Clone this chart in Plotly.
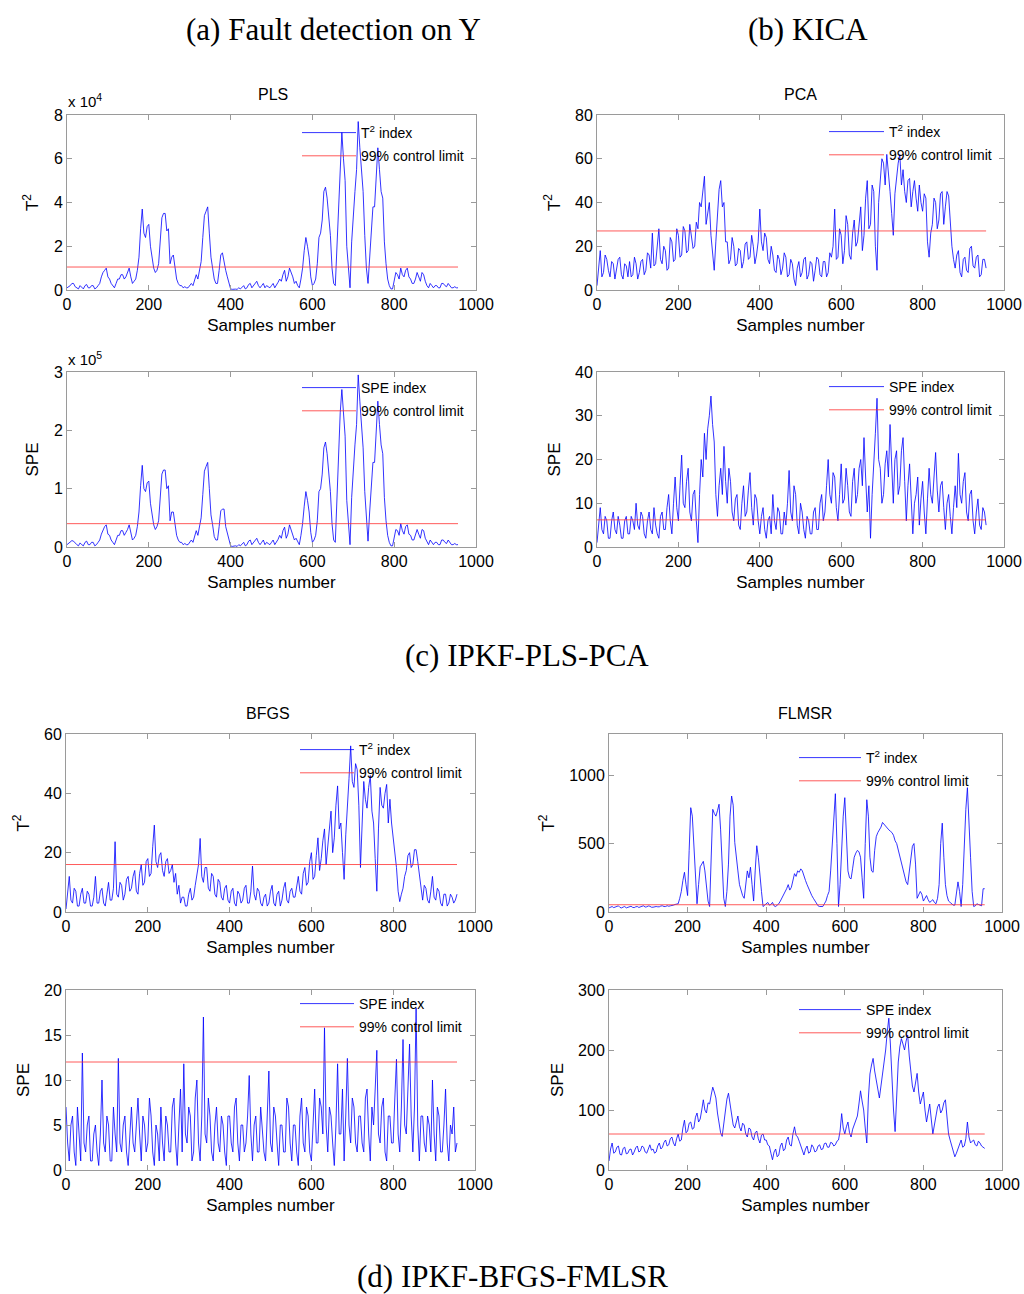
import plotly.graph_objects as go

# ---------------- data (every 4th sample) ----------------
samples = list(range(0, 960, 4))

# PLS T2 (x 10^4)
pls_t2 = [0.1, 0.15, 0.2, 0.3, 0.3, 0.15, 0.1, 0.05, 0.2, 0.1, 0.05, 0.2, 0.25, 0.1, 0.1, 0.2, 0.2, 0.05, 0.1, 0.2,
          0.3, 0.6, 0.8, 0.9, 1.0, 0.6, 0.5, 0.3, 0.2, 0.1, 0.3, 0.5, 0.5, 0.7, 0.7, 0.5, 0.6, 0.8, 1.0, 0.6,
          0.3, 0.4, 0.5, 0.9, 1.5, 2.8, 3.7, 2.6, 2.4, 2.9, 3.0, 2.0, 1.4, 1.0, 0.8, 0.9, 1.2, 2.5, 3.3, 3.5,
          3.5, 2.7, 2.8, 1.2, 1.5, 1.6, 0.9, 0.5, 0.3, 0.2, 0.2, 0.1, 0.15, 0.1, 0.1, 0.2, 0.3, 0.2, 0.5, 0.7,
          0.5, 0.9, 1.3, 2.4, 3.4, 3.6, 3.8, 2.6, 1.5, 1.0, 0.5, 0.3, 0.3, 0.9, 1.6, 1.7, 1.2, 0.9, 0.6, 0.3,
          0.05, 0.03, 0.05, 0.04, 0.03, 0.1, 0.05, 0.15, 0.2, 0.05, 0.1, 0.25, 0.3, 0.1, 0.2, 0.35, 0.4, 0.2, 0.1, 0.2,
          0.3, 0.1, 0.2, 0.15, 0.1, 0.2, 0.3, 0.1, 0.2, 0.35, 0.5, 0.4, 0.7, 0.9, 0.4, 0.6, 1.0, 0.8, 0.6, 0.3,
          0.4, 0.2, 0.1, 0.5, 1.0, 1.8, 2.4, 2.0, 1.5, 0.6, 0.2, 0.3, 0.5, 1.2, 2.4, 2.6, 3.2, 4.5, 4.7, 4.2,
          3.3, 2.5, 1.0, 0.3, 0.2, 2.0, 4.3, 5.3, 7.2, 6.0, 5.0, 2.0, 1.0, 0.1, 2.2, 3.6, 4.5, 5.5, 7.7, 6.5,
          5.3, 4.5, 2.5, 1.0, 0.3, 1.5, 2.8, 3.8, 3.8, 5.5, 6.5, 5.5, 4.5, 4.2, 2.2, 1.2, 0.5, 0.2, 0.05, 0.05,
          0.4, 0.8, 0.7, 0.5, 1.0, 0.7, 0.6, 0.9, 1.0, 0.6, 0.5, 0.3, 0.3, 0.5, 0.8, 0.6, 0.4, 0.8, 0.7, 0.4,
          0.2, 0.1, 0.3, 0.2, 0.1, 0.2, 0.2, 0.1, 0.1, 0.3, 0.3, 0.2, 0.15, 0.3, 0.2, 0.1, 0.1, 0.15, 0.1, 0.1]
pls_t2_limit = 1.05

# PLS SPE (x 10^5)
pls_spe = [0.04, 0.06, 0.08, 0.11, 0.1, 0.06, 0.04, 0.02, 0.07, 0.04, 0.02, 0.08, 0.1, 0.04, 0.04, 0.08, 0.08, 0.02, 0.04, 0.08,
           0.12, 0.22, 0.3, 0.35, 0.38, 0.22, 0.2, 0.12, 0.08, 0.04, 0.12, 0.2, 0.2, 0.28, 0.28, 0.2, 0.25, 0.3, 0.38, 0.22,
           0.12, 0.15, 0.2, 0.35, 0.6, 1.05, 1.4, 1.0, 0.95, 1.1, 1.13, 0.75, 0.55, 0.38, 0.3, 0.35, 0.45, 0.95, 1.25, 1.32,
           1.32, 1.0, 1.05, 0.45, 0.6, 0.6, 0.35, 0.2, 0.12, 0.08, 0.08, 0.04, 0.06, 0.04, 0.04, 0.08, 0.12, 0.08, 0.2, 0.28,
           0.2, 0.35, 0.5, 0.9, 1.3, 1.38, 1.45, 1.0, 0.55, 0.38, 0.18, 0.12, 0.12, 0.35, 0.62, 0.65, 0.65, 0.35, 0.25, 0.12,
           0.02, 0.01, 0.02, 0.02, 0.01, 0.04, 0.02, 0.06, 0.08, 0.02, 0.04, 0.1, 0.12, 0.04, 0.08, 0.13, 0.15, 0.08, 0.04, 0.08,
           0.12, 0.04, 0.08, 0.06, 0.04, 0.08, 0.12, 0.04, 0.08, 0.13, 0.2, 0.15, 0.28, 0.34, 0.15, 0.22, 0.38, 0.3, 0.22, 0.12,
           0.15, 0.08, 0.04, 0.2, 0.4, 0.7, 0.95, 0.8, 0.6, 0.25, 0.08, 0.12, 0.2, 0.45, 0.95, 1.0, 1.25, 1.7, 1.8, 1.6,
           1.3, 0.95, 0.4, 0.12, 0.08, 0.8, 1.65, 2.3, 2.7, 2.3, 1.9, 0.8, 0.4, 0.04, 0.85, 1.4, 1.75, 2.1, 2.95, 2.5,
           2.05, 1.7, 0.95, 0.4, 0.1, 0.6, 1.1, 1.45, 1.45, 2.1, 2.5, 2.1, 1.75, 1.6, 0.85, 0.45, 0.2, 0.08, 0.02, 0.02,
           0.15, 0.3, 0.28, 0.2, 0.4, 0.28, 0.22, 0.35, 0.38, 0.22, 0.2, 0.12, 0.12, 0.2, 0.3, 0.22, 0.15, 0.3, 0.28, 0.15,
           0.08, 0.04, 0.12, 0.08, 0.04, 0.08, 0.08, 0.04, 0.04, 0.12, 0.12, 0.08, 0.06, 0.12, 0.08, 0.04, 0.04, 0.06, 0.04, 0.04]
pls_spe_limit = 0.40

# PCA T2
pca_t2 = [2, 12, 18, 6, 8, 16, 14, 9, 6, 13, 12, 5, 9, 14, 15, 7, 5, 12, 11, 6,
          13, 6, 7, 15, 12, 5, 8, 13, 14, 7, 9, 17, 16, 10, 26, 11, 12, 20, 28, 14,
          12, 20, 18, 9, 10, 24, 22, 13, 14, 28, 25, 15, 16, 29, 27, 17, 18, 30, 24, 19,
          20, 31, 28, 40, 38, 44, 52, 30, 36, 40, 25, 16, 9, 22, 35, 46, 50, 38, 40, 22,
          22, 12, 14, 24, 20, 11, 12, 19, 18, 10, 13, 21, 22, 14, 15, 25, 20, 12, 16, 22,
          37, 22, 18, 26, 24, 14, 12, 20, 16, 9, 8, 16, 14, 7, 10, 17, 15, 6, 7, 14,
          12, 5, 2, 10, 13, 6, 8, 14, 15, 5, 7, 13, 12, 4, 9, 15, 14, 7, 6, 13,
          13, 6, 8, 17, 15, 20, 37, 14, 15, 28, 25, 12, 18, 34, 30, 16, 14, 26, 32, 20,
          22, 30, 38, 18, 25, 42, 50, 28, 30, 48, 45, 20, 9, 40, 52, 60, 58, 48, 62, 55,
          45, 35, 25, 44, 52, 58, 62, 48, 55, 45, 40, 50, 51, 38, 45, 50, 42, 36, 48, 40,
          36, 44, 42, 22, 15, 26, 30, 42, 40, 28, 32, 44, 45, 30, 38, 45, 43, 30, 20, 14,
          10, 16, 18, 8, 6, 14, 15, 9, 8, 19, 20, 11, 10, 15, 16, 6, 7, 14, 14, 10]
pca_t2_limit = 27

# PCA SPE
pca_spe = [1, 5, 9, 4, 3, 7, 6, 2, 2, 6, 8, 4, 3, 7, 5, 2, 2, 6, 7, 3,
           3, 7, 6, 4, 10, 5, 4, 8, 7, 3, 2, 6, 8, 4, 3, 9, 5, 3, 2, 7,
           8, 4, 4, 9, 12, 6, 3, 10, 16, 9, 6, 14, 21, 10, 9, 15, 18, 8, 6, 12,
           13, 6, 1, 12, 20, 16, 26, 20, 27, 30, 34.5, 28, 24, 12, 7, 14, 18, 12, 23, 15,
           10, 18, 15, 8, 6, 11, 12, 5, 4, 10, 14, 7, 8, 13, 17, 9, 5, 12, 11, 6,
           3, 7, 9, 4, 2, 6, 7, 3, 12, 6, 4, 9, 8, 3, 3, 8, 5, 10, 17.5, 8,
           6, 14, 12, 5, 3, 10, 8, 4, 2, 7, 6, 3, 3, 8, 9, 4, 4, 10, 12, 6,
           8, 14, 20, 12, 10, 17, 16, 9, 6, 12, 19, 10, 11, 18, 14, 8, 7, 15, 18, 10,
           12, 18, 20, 14, 25, 16, 8, 14, 2, 12, 18, 26, 34, 20, 18, 10, 12, 19, 22, 16,
           28, 18, 10, 20, 22, 12, 14, 22, 25, 15, 6, 14, 19, 11, 3, 10, 12, 16, 5, 11,
           15, 8, 3, 11, 18, 12, 10, 16, 21.6, 13, 8, 14, 15, 9, 4, 10, 12, 7, 3, 9,
           14, 9, 21.4, 12, 10, 15, 17, 8, 6, 12, 13, 6, 3, 8, 11, 5, 4, 9, 8, 5]
pca_spe_limit = 6.2

# BFGS T2
bfgs_t2 = [1, 6, 12, 4, 3, 8, 7, 2, 2, 6, 8, 3, 3, 7, 6, 2, 2, 5, 12, 3,
           3, 7, 8, 3, 2, 6, 10, 4, 4, 8, 23.7, 6, 5, 10, 9, 4, 6, 11, 12, 7,
           8, 12, 14, 7, 6, 13, 16, 9, 10, 17, 18, 12, 13, 22, 29.3, 17, 15, 19, 20, 14,
           12, 17, 18, 13, 14, 16, 10, 13, 6, 9, 3, 5, 5, 2, 2, 6, 8, 4, 5, 9,
           12, 16, 24.8, 12, 10, 15, 15, 8, 7, 13, 12, 6, 5, 11, 10, 5, 4, 8, 9, 4,
           3, 7, 8, 3, 2, 7, 6, 3, 4, 8, 9, 3, 3, 7, 15.5, 6, 4, 8, 7, 3,
           2, 5, 6, 2, 3, 7, 9, 3, 2, 6, 7, 2, 4, 8, 10, 4, 3, 7, 8, 5,
           5, 9, 12, 7, 6, 13, 15, 9, 10, 17, 20, 11, 12, 19, 25, 14, 18, 24, 28, 16,
           22, 30, 34, 20, 25, 36, 42.5, 28, 30, 20, 11, 26, 38, 45, 56, 44, 42, 50, 48, 36,
           15, 30, 44, 38, 35, 42, 46, 34, 30, 18, 7, 28, 42, 36, 35, 40, 43, 30, 38, 30,
           25, 18, 15, 7, 3.5, 6, 8, 12, 14, 19, 20, 15, 16, 21, 21, 17, 12, 7, 4, 9,
           8, 4, 3, 7, 12, 5, 4, 8, 7, 3, 2, 6, 6, 2, 3, 6, 5, 3, 4, 6]
bfgs_t2_limit = 16

# BFGS SPE
bfgs_spe = [7, 3, 1, 5, 6, 2, 0.5, 7, 4, 1, 13, 3, 2, 5, 6, 1, 1, 4, 5, 2,
            0.5, 4, 10, 3, 2, 6, 5, 1, 1, 7, 4, 2, 12.4, 3, 2, 5, 6, 2, 0.5, 4,
            7, 3, 2, 5, 8, 4, 1, 6, 5, 2, 3, 8, 6, 2, 0.5, 5, 4, 1, 7, 3,
            1, 6, 5, 2, 2, 7, 8, 3, 0.5, 5, 9, 2, 11.8, 4, 3, 7, 6, 1, 2, 8,
            10, 3, 1, 6, 17, 4, 3, 8, 6, 2, 1, 5, 7, 3, 2, 6, 5, 2, 0.5, 6,
            6, 3, 2, 7, 8, 3, 1, 5, 5, 2, 3, 6, 10.5, 4, 1, 5, 6, 2, 2, 7,
            4, 2, 1, 6, 11, 3, 2, 7, 6, 3, 0.5, 5, 5, 2, 2, 8, 7, 3, 1, 5,
            5, 2, 0.5, 6, 8, 3, 2, 7, 6, 2, 1, 5, 9, 3, 3, 8, 7, 4, 15.8, 5,
            2, 7, 6, 3, 0.5, 5, 11.8, 4, 4, 9, 1, 6, 12.4, 5, 3, 8, 7, 3, 2, 6,
            6, 3, 2, 8, 9, 4, 1, 7, 5, 9, 13.3, 4, 3, 7, 8, 2, 1, 6, 6, 3,
            3, 8, 12.3, 4, 2, 7, 14.5, 5, 4, 9, 14, 6, 2, 7, 18, 5, 1, 6, 6, 3,
            2, 6, 5, 2, 10, 4, 1, 7, 6, 2, 2, 5, 9, 3, 1, 5, 4, 7, 2, 3]
bfgs_spe_limit = 12

# FLMSR T2
flmsr_t2 = [30, 38, 40, 32, 35, 42, 45, 33, 30, 36, 40, 30, 35, 41, 42, 34, 32, 38, 40, 33,
            35, 42, 45, 36, 38, 44, 42, 35, 35, 40, 40, 38, 38, 44, 45, 40, 40, 46, 42, 45,
            45, 50, 55, 58, 60, 100, 150, 230, 290, 200, 120, 450, 762, 700, 460, 200, 60, 200, 330, 350,
            370, 300, 194, 80, 40, 500, 750, 720, 700, 740, 787, 600, 300, 100, 40, 150, 350, 700, 847, 780,
            508, 420, 300, 200, 150, 120, 100, 200, 300, 250, 327, 200, 80, 300, 484, 400, 250, 150, 40, 50,
            60, 70, 50, 55, 70, 45, 40, 50, 60, 80, 100, 130, 150, 170, 200, 160, 180, 230, 280, 260,
            300, 290, 315, 300, 260, 230, 200, 170, 150, 120, 100, 80, 60, 45, 40, 38, 40, 60, 80, 120,
            150, 300, 500, 750, 864, 500, 40, 200, 500, 700, 835, 600, 300, 250, 242, 320, 400, 430, 450, 440,
            400, 250, 100, 500, 820, 700, 400, 300, 290, 450, 550, 580, 600, 620, 654, 640, 620, 610, 600, 590,
            580, 560, 520, 500, 450, 420, 350, 300, 250, 220, 200, 300, 400, 480, 500, 350, 100, 120, 150, 130,
            80, 100, 120, 90, 70, 80, 90, 70, 60, 100, 200, 500, 649, 400, 200, 120, 80, 70, 60, 50,
            50, 120, 220, 150, 40, 200, 500, 750, 908, 700, 400, 150, 40, 45, 60, 55, 50, 45, 170, 170]
flmsr_t2_limit = 53

# FLMSR SPE
flmsr_spe = [15, 35, 45, 28, 30, 38, 40, 26, 25, 36, 38, 27, 28, 34, 35, 25, 30, 37, 40, 30,
             32, 40, 38, 30, 28, 36, 42, 33, 35, 28, 30, 40, 45, 35, 38, 46, 50, 40, 42, 52,
             55, 45, 40, 52, 60, 48, 50, 70, 83, 62, 65, 78, 80, 68, 70, 88, 95, 80, 85, 100,
             117, 100, 95, 112, 110, 125, 138, 130, 120, 95, 75, 62, 56, 80, 100, 118, 128, 110, 85, 75,
             70, 82, 90, 72, 65, 78, 75, 60, 55, 70, 68, 55, 50, 62, 65, 52, 45, 58, 60, 50,
             50, 42, 40, 28, 17, 30, 35, 22, 25, 40, 45, 32, 35, 50, 55, 42, 40, 60, 72, 58,
             55, 48, 40, 30, 25, 35, 40, 28, 30, 42, 38, 30, 32, 40, 42, 34, 35, 44, 45, 38,
             38, 46, 45, 40, 42, 48, 50, 65, 94, 70, 60, 72, 80, 62, 55, 68, 75, 85, 90, 110,
             132, 115, 100, 70, 45, 120, 160, 175, 186, 165, 150, 135, 120, 140, 160, 185, 200, 230, 253, 210,
             150, 100, 64, 120, 180, 205, 219, 210, 200, 215, 225, 190, 160, 140, 130, 145, 161, 130, 110, 120,
             130, 100, 80, 95, 110, 85, 60, 75, 90, 105, 110, 95, 100, 112, 117, 90, 60, 50, 40, 30,
             22, 28, 35, 42, 50, 38, 40, 52, 80, 55, 45, 48, 50, 42, 40, 48, 45, 40, 38, 36]
flmsr_spe_limit = 60

x_ticks = [0, 200, 400, 600, 800, 1000]

# ---------------- layout helpers ----------------
W, H = 1024, 1294
SANS = "Liberation Sans, Arial, sans-serif"
SERIF = "Liberation Serif, Times New Roman, serif"
FRAME = "#9a9a9a"


def py(v):
    return 1 - v / H


def xd(a, b):
    return [a / W, b / W]


def yd(top, bottom):
    return [py(bottom), py(top)]


panels = [
    # data, limit, name, ylabel, yrange, dtick, box(x0,x1,ytop,ybot), legend(x, ytop, itemwidth)
    (pls_t2, pls_t2_limit, "T<sup>2</sup> index", "T<sup>2</sup>", [0, 8], 2, (67, 476, 115, 290), (297, 117, 54)),
    (pls_spe, pls_spe_limit, "SPE index", "SPE", [0, 3], 1, (67, 476, 372, 547), (297, 372, 54)),
    (pca_t2, pca_t2_limit, "T<sup>2</sup> index", "T<sup>2</sup>", [0, 80], 20, (597, 1004, 115, 290), (824, 116, 55)),
    (pca_spe, pca_spe_limit, "SPE index", "SPE", [0, 40], 10, (597, 1004, 372, 547), (824, 371, 55)),
    (bfgs_t2, bfgs_t2_limit, "T<sup>2</sup> index", "T<sup>2</sup>", [0, 60], 20, (66, 475, 734, 912), (295, 734, 54)),
    (bfgs_spe, bfgs_spe_limit, "SPE index", "SPE", [0, 20], 5, (66, 475, 990, 1170), (295, 988, 54)),
    (flmsr_t2, flmsr_t2_limit, "T<sup>2</sup> index", "T<sup>2</sup>", [0, 1300], 500, (609, 1002, 734, 912), (794, 742, 62)),
    (flmsr_spe, flmsr_spe_limit, "SPE index", "SPE", [0, 300], 100, (609, 1002, 990, 1170), (794, 994, 62)),
]

fig = go.Figure()
layout = dict(
    width=W, height=H,
    margin=dict(l=0, r=0, t=0, b=0),
    paper_bgcolor="white", plot_bgcolor="white",
    font=dict(family=SANS, size=15, color="black"),
    showlegend=True,
)

for i, (vals, lim, nm, ylab, yr, dt, box, legpos) in enumerate(panels, start=1):
    s = "" if i == 1 else str(i)
    leg = "legend" if i == 1 else f"legend{i}"
    fig.add_trace(go.Scatter(
        x=samples, y=vals, mode="lines", name=nm,
        line=dict(color="#0000ff", width=0.8),
        xaxis="x" + s, yaxis="y" + s, legend=leg, legendgroup=f"d{i}"))
    fig.add_trace(go.Scatter(
        x=[samples[0], samples[-1]], y=[lim, lim], mode="lines",
        name="99% control limit",
        line=dict(color="#ff3030", width=0.8),
        xaxis="x" + s, yaxis="y" + s, legend=leg, legendgroup=f"l{i}"))
    x0, x1, yt, yb = box
    common = dict(showline=True, linecolor=FRAME, linewidth=1, mirror="ticks",
                  ticks="inside", ticklen=5, tickcolor=FRAME, showgrid=False,
                  zeroline=False, automargin=False,
                  tickfont=dict(family=SANS, size=16, color="black"))
    layout["xaxis" + s] = dict(
        common, domain=xd(x0, x1), anchor="y" + s, range=[0, 1000],
        tickvals=x_ticks,
        title=dict(text="Samples number", font=dict(family=SANS, size=17), standoff=6))
    layout["yaxis" + s] = dict(
        common, domain=yd(yt, yb), anchor="x" + s, range=yr, dtick=dt,
        title=dict(text=ylab, font=dict(family=SANS, size=17), standoff=10))
    layout[leg] = dict(
        x=legpos[0] / W, y=py(legpos[1]), xanchor="left", yanchor="top",
        bgcolor="rgba(0,0,0,0)", borderwidth=0,
        font=dict(family=SANS, size=14, color="black"),
        tracegroupgap=2, itemwidth=legpos[2])

annotations = []


def txt(text, x, y, size, family=SANS, xanchor="center"):
    annotations.append(dict(text=text, x=x / W, y=py(y), xref="paper", yref="paper",
                            showarrow=False, xanchor=xanchor, yanchor="middle",
                            font=dict(family=family, size=size, color="black")))


txt("(a) Fault detection on Y", 333, 30, 31, SERIF)
txt("(b) KICA", 808, 30, 31, SERIF)
txt("(c) IPKF-PLS-PCA", 527, 655, 31, SERIF)
txt("(d) IPKF-BFGS-FMLSR", 512, 1276, 31, SERIF)
txt("PLS", 273, 95, 16)
txt("PCA", 800, 94, 16)
txt("BFGS", 268, 713, 16)
txt("FLMSR", 805, 713, 16)
txt("x 10<sup>4</sup>", 66, 101, 15, xanchor="left")
txt("x 10<sup>5</sup>", 66, 358, 15, xanchor="left")
layout["annotations"] = annotations

fig.update_layout(**layout)
fig.write_html(
    "out.html",
    config={"displayModeBar": False},
    post_script="document.body.style.margin='0px';document.body.style.overflow='hidden';",
)
